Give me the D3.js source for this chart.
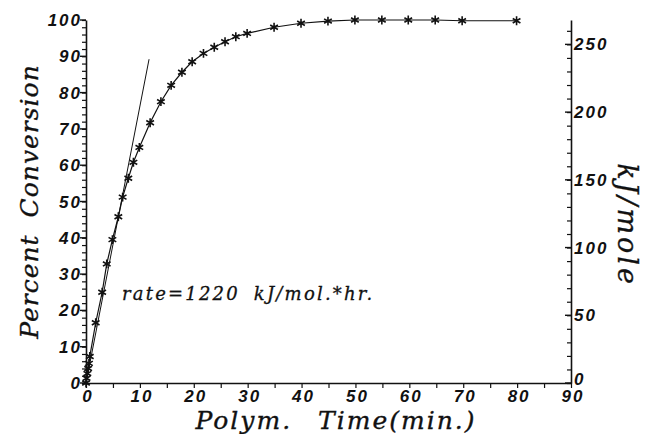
<!DOCTYPE html>
<html>
<head>
<meta charset="utf-8">
<script src="https://cdn.jsdelivr.net/npm/d3@7"></script>
<style>
  body { margin: 0; background: #fff; }
  .tick-lbl { font-family: "Liberation Sans", Arial, sans-serif; font-weight: bold; font-style: italic; font-size: 17px; letter-spacing: 2px; fill: #111; }
  .title-lbl { font-family: "DejaVu Serif", "Liberation Serif", serif; font-style: italic; font-size: 25px; fill: #111; stroke: #111; stroke-width: 0.35px; }
  .note-lbl { font-family: "DejaVu Serif", "Liberation Serif", serif; font-style: italic; font-size: 18px; letter-spacing: 2.2px; fill: #111; stroke: #111; stroke-width: 0.3px; }
</style>
</head>
<body>
<div id="chart"></div>
<script>
// polymerization conversion vs time
const timeMin = [0, 0.1, 0.25, 0.4, 0.55, 0.7, 1.8, 3, 3.85, 4.9, 6, 6.8, 7.85, 8.8, 9.9,
  11.9, 13.9, 15.8, 17.8, 19.7, 21.8, 23.8, 25.8, 27.8, 29.9, 34.9, 39.9, 44.9, 49.9,
  54.9, 59.8, 64.8, 69.8, 79.9];
const conversion = [0, 1.3, 2.6, 4, 5.4, 7.3, 16.6, 25, 32.8, 39.5, 45.8, 51.2, 56.4, 60.8, 64.9,
  71.7, 77.5, 82, 85.6, 88.5, 90.8, 92.5, 94, 95.4, 96.3, 98, 99.1, 99.7, 100,
  100, 100, 100, 99.8, 99.8];

// initial-rate tangent line
const tangentTime = [0, 11.7];
const tangentConv = [0, 89.2];

const xTicks = [0, 10, 20, 30, 40, 50, 60, 70, 80, 90];
const yTicks = [0, 10, 20, 30, 40, 50, 60, 70, 80, 90, 100];
const y2Ticks = [0, 50, 100, 150, 200, 250];
const Y2_MAX = 268;   // kJ/mole at 100 % conversion

(function () {
  const W = 650, H = 434;
  const PLOT = { left: 86, right: 571, top: 20, bottom: 383 };

  const svg = d3.select("#chart").append("svg")
    .attr("width", W).attr("height", H);

  const x = d3.scaleLinear().domain([0, 90]).range([PLOT.left, PLOT.right]);
  const y = d3.scaleLinear().domain([0, 100]).range([PLOT.bottom, PLOT.top]);
  const y2 = d3.scaleLinear().domain([0, Y2_MAX]).range([PLOT.bottom, PLOT.top]);

  // ── axes ──
  function styleAxis(g) {
    g.select(".domain").attr("stroke", "#111").attr("stroke-width", 1.6);
    g.selectAll(".tick line").attr("stroke", "#111").attr("stroke-width", 1.2);
  }

  // bottom: ticks every 5 min
  svg.append("g").attr("transform", `translate(0,${PLOT.bottom})`)
    .call(d3.axisBottom(x).tickValues(d3.range(0, 91, 5)).tickSize(5).tickSizeOuter(0).tickFormat(""))
    .call(styleAxis);
  svg.append("g").selectAll("text").data(xTicks).join("text")
    .attr("class", "tick-lbl")
    .attr("x", d => x(d) + 2).attr("y", PLOT.bottom + 19)
    .attr("text-anchor", "middle").text(d => d);

  // left: major 10, minor 2
  svg.append("g").attr("transform", `translate(${PLOT.left},0)`)
    .call(d3.axisLeft(y).tickValues(d3.range(0, 101, 2)).tickSize(4).tickSizeOuter(0).tickFormat(""))
    .call(styleAxis);
  svg.append("g").selectAll("line").data(yTicks).join("line")
    .attr("x1", PLOT.left - 6).attr("x2", PLOT.left)
    .attr("y1", d => y(d)).attr("y2", d => y(d))
    .attr("stroke", "#111").attr("stroke-width", 1.4);
  svg.append("g").selectAll("text").data(yTicks).join("text")
    .attr("class", "tick-lbl")
    .attr("x", PLOT.left - 4).attr("y", d => y(d) + 6)
    .attr("text-anchor", "end").text(d => d);

  // right: major 50, minor 10, ticks pointing inward
  svg.append("g").attr("transform", `translate(${PLOT.right},0)`)
    .call(d3.axisRight(y2).tickValues(d3.range(0, Y2_MAX, 10)).tickSize(-4).tickSizeOuter(0).tickFormat(""))
    .call(styleAxis);
  svg.append("g").selectAll("line").data(y2Ticks).join("line")
    .attr("x1", PLOT.right - 6).attr("x2", PLOT.right)
    .attr("y1", d => y2(d)).attr("y2", d => y2(d))
    .attr("stroke", "#111").attr("stroke-width", 1.4);
  svg.append("g").selectAll("text").data(y2Ticks).join("text")
    .attr("class", "tick-lbl")
    .attr("x", PLOT.right + 3).attr("y", d => y2(d) + 6 - (d === 0 ? 4 : 0))
    .attr("text-anchor", "start").text(d => d);

  // ── titles ──
  svg.append("text").attr("class", "title-lbl")
    .attr("transform", `translate(38,${(PLOT.top + PLOT.bottom) / 2}) rotate(-90)`)
    .attr("text-anchor", "middle")
    .style("letter-spacing", "1px").style("word-spacing", "8px")
    .text("Percent Conversion");

  svg.append("text").attr("class", "title-lbl")
    .attr("x", 336).attr("y", 429)
    .attr("text-anchor", "middle")
    .style("letter-spacing", "2px").style("word-spacing", "16px")
    .text("Polym. Time(min.)");

  svg.append("text").attr("class", "title-lbl")
    .attr("transform", `translate(618,225) rotate(90)`)
    .attr("text-anchor", "middle")
    .style("font-size", "27px").style("letter-spacing", "3px")
    .text("kJ/mole");

  svg.append("text").attr("class", "note-lbl")
    .attr("x", 122).attr("y", 300)
    .style("word-spacing", "6px")
    .text("rate=1220 kJ/mol.*hr.");

  // ── data ──
  const pts = timeMin.map((t, i) => ({ t, c: conversion[i] }));

  svg.append("path")
    .datum(tangentTime.map((t, i) => ({ t, c: tangentConv[i] })))
    .attr("fill", "none").attr("stroke", "#111").attr("stroke-width", 1)
    .attr("d", d3.line().x(d => x(d.t)).y(d => y(d.c)));

  svg.append("path")
    .datum(pts)
    .attr("fill", "none").attr("stroke", "#111").attr("stroke-width", 1.2)
    .attr("d", d3.line().x(d => x(d.t)).y(d => y(d.c)));

  // asterisk markers
  const star = d3.symbol().type(d3.symbolAsterisk).size(55);
  svg.append("g").selectAll("path").data(pts).join("path")
    .attr("transform", d => `translate(${x(d.t)},${y(d.c)})`)
    .attr("d", star)
    .attr("fill", "none").attr("stroke", "#111").attr("stroke-width", 1.6);
})();
</script>
</body>
</html>
